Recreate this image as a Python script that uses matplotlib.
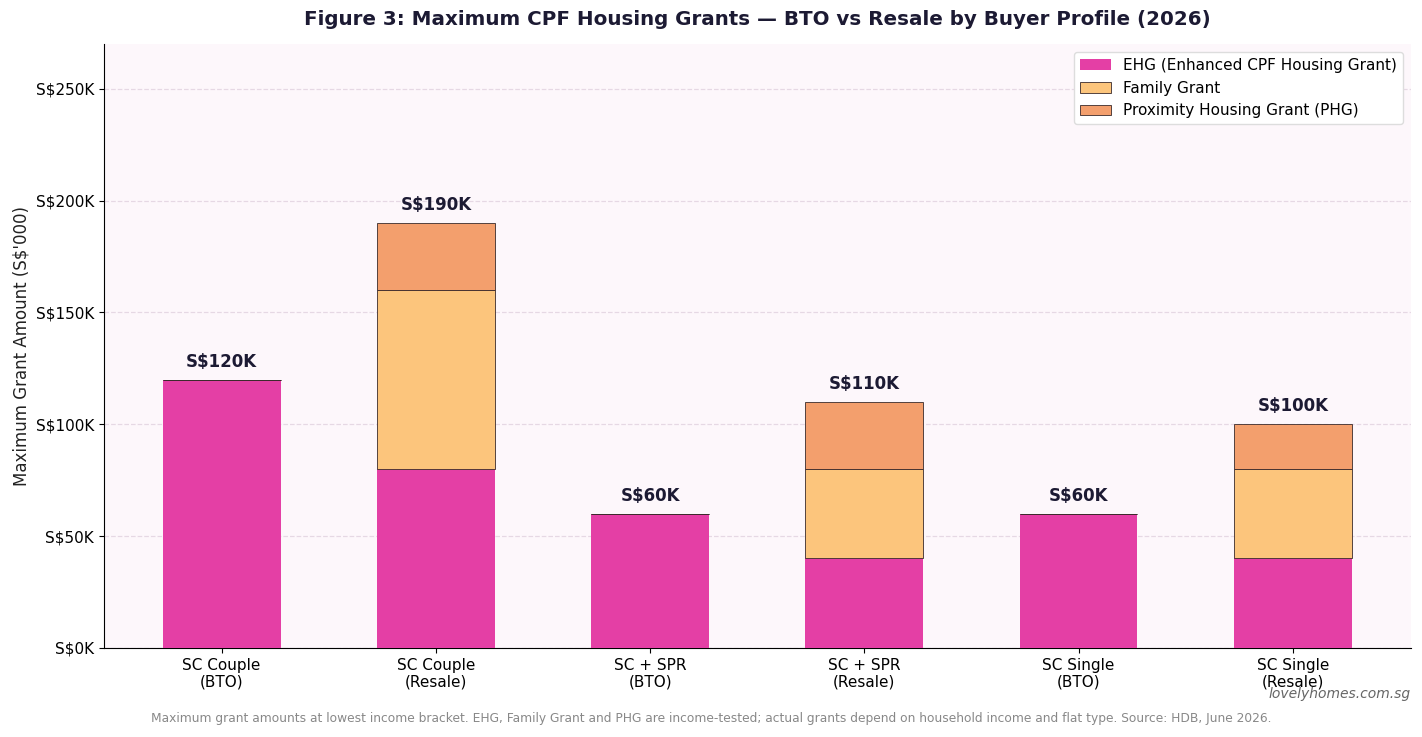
import numpy as np
import matplotlib
matplotlib.use("Agg")
import matplotlib.pyplot as plt
from matplotlib.ticker import FuncFormatter

# grant amounts in S$'000
categories = ["SC Couple\n(BTO)", "SC Couple\n(Resale)", "SC + SPR\n(BTO)",
              "SC + SPR\n(Resale)", "SC Single\n(BTO)", "SC Single\n(Resale)"]
ehg = [120, 80, 60, 40, 60, 40]
family = [0, 80, 0, 40, 0, 40]
phg = [0, 30, 0, 30, 0, 20]

c_ehg = "#e43fa5"
c_fam = "#fcc57c"
c_phg = "#f39f6d"
dark = "#1c1a33"

fig, ax = plt.subplots(figsize=(14.22, 7.37), dpi=100)
fig.subplots_adjust(left=0.073, right=0.992, top=0.94, bottom=0.121)
ax.set_facecolor("#fdf7fb")

x = np.arange(len(categories))
w = 0.55
ax.bar(x, ehg, w, color=c_ehg, edgecolor="none",
       label="EHG (Enhanced CPF Housing Grant)", zorder=3)
ax.bar(x, family, w, bottom=ehg, color=c_fam, edgecolor="#3a2a2a",
       linewidth=0.6, label="Family Grant", zorder=3)
bottom2 = np.array(ehg) + np.array(family)
ax.bar(x, phg, w, bottom=bottom2, color=c_phg, edgecolor="#3a2a2a",
       linewidth=0.6, label="Proximity Housing Grant (PHG)", zorder=3)

totals = bottom2 + np.array(phg)
for xi, t in zip(x, totals):
    ax.text(xi, t + 4, f"S\\${t}K", ha="center", va="bottom",
            fontsize=12, fontweight="bold", color=dark)

ax.set_xticks(x)
ax.set_xticklabels(categories, fontsize=11)
ax.set_xlim(-0.55, 5.55)
ax.set_ylim(0, 270)
ax.set_yticks(np.arange(0, 251, 50))
ax.yaxis.set_major_formatter(FuncFormatter(lambda v, p: f"S\\${int(v)}K"))
ax.tick_params(axis="y", labelsize=11)
ax.set_ylabel("Maximum Grant Amount (S\\$'000)", fontsize=12, color="#222222")
ax.grid(axis="y", linestyle="--", color="#e6d8e4", linewidth=0.9, zorder=0)
ax.spines["top"].set_visible(False)
ax.spines["right"].set_visible(False)

ax.set_title("Figure 3: Maximum CPF Housing Grants \u2014 BTO vs Resale by Buyer Profile (2026)",
             fontsize=14.3, fontweight="bold", color=dark, pad=14)

ax.legend(loc="upper right", fontsize=11, frameon=True, framealpha=1,
          edgecolor="#dddddd", borderaxespad=0.5)

fig.text(0.992, 0.058, "lovelyhomes.com.sg", ha="right", va="center",
         fontsize=10, style="italic", color="#666666")
fig.text(0.5, 0.025, "Maximum grant amounts at lowest income bracket. EHG, Family Grant and PHG are "
         "income-tested; actual grants depend on household income and flat type. Source: HDB, June 2026.",
         ha="center", va="center", fontsize=8.8, color="#888888")

fig.savefig("out.png", dpi=100)
